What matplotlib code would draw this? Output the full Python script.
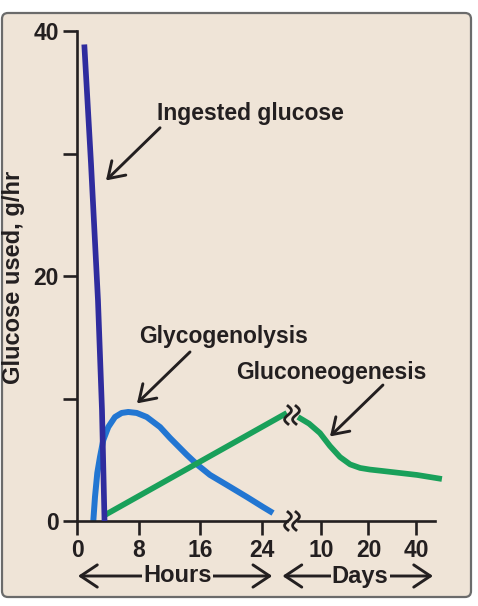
import numpy as np
import matplotlib
matplotlib.use("Agg")
import matplotlib.pyplot as plt
from matplotlib.patches import FancyBboxPatch
from matplotlib.lines import Line2D
from matplotlib.ticker import NullLocator, FixedLocator

# ---------------- data ----------------
ingested_hours = [0.95, 1.82, 2.73, 3.25, 3.58]
ingested_values = [38.9, 29.2, 18.0, 9.06, 0.0]

glyco_hours = [2.12, 2.34, 2.64, 2.99, 3.42, 4.07, 4.94, 5.81, 6.67, 7.77,
               9.07, 10.8, 12.1, 14.3, 15.7, 17.3, 19.5, 22.1, 24.2, 25.5]
glyco_values = [0.0, 1.96, 3.92, 5.22, 6.61, 7.67, 8.49, 8.82, 8.90, 8.82,
                8.49, 7.67, 6.78, 5.39, 4.57, 3.76, 2.94, 1.96, 1.14, 0.65]

gluco_hours = [3.64, 27.3]
gluco_hours_values = [0.49, 8.82]
gluco_days = [7.15, 8.4, 9.85, 11.4, 13.2, 15.3, 17.7, 20.4, 24.7, 40.6, 58.4]
gluco_days_values = [8.49, 7.95, 7.18, 6.12, 5.22, 4.62, 4.33, 4.2, 4.08, 3.76, 3.43]

hour_ticks = [0, 8, 16, 24]
day_ticks = [10, 20, 40]
y_major = [0, 20, 40]
y_minor = [10, 30]

# ---------------- style ----------------
BG = "#efe4d7"
TXT = "#231f20"
C_ING = "#2f2c9e"
C_GLY = "#2276d2"
C_GNG = "#19a05a"
FONT = ["Liberation Sans", "DejaVu Sans"]
plt.rcParams["font.family"] = FONT
plt.rcParams["font.weight"] = "bold"

W, H = 478, 606
fig = plt.figure(figsize=(W / 100, H / 100), dpi=100)
fig.patch.set_facecolor("white")

frame = FancyBboxPatch((0.02, 0.09), 4.69, 5.84,
                       boxstyle="round,pad=0,rounding_size=0.06",
                       transform=fig.dpi_scale_trans, facecolor=BG,
                       edgecolor="#6b6b6b", lw=1.6, zorder=0)
fig.add_artist(frame)

px_per_hour = 7.6875
ax1 = fig.add_axes([77 / W, 85 / H, 210 / W, 490 / H])
ax2 = fig.add_axes([298 / W, 85 / H, 137 / W, 490 / H])
for ax in (ax1, ax2):
    ax.patch.set_visible(False)
    ax.set_ylim(0, 40)
    for s in ("top", "right"):
        ax.spines[s].set_visible(False)
    ax.spines["bottom"].set_linewidth(1.9)
    ax.spines["left"].set_linewidth(1.9)
    ax.spines["bottom"].set_color(TXT)
    ax.spines["left"].set_color(TXT)

TICK_FS = 16.5
ax1.set_xlim(0, 210 / px_per_hour)
ax1.set_xticks(hour_ticks)
ax1.set_yticks(y_major)
ax1.yaxis.set_minor_locator(FixedLocator(y_minor))
ax1.tick_params(axis="both", which="both", direction="out", length=10,
                width=1.9, color=TXT, labelsize=TICK_FS, labelcolor=TXT, pad=3)

ax2.set_xscale("log")
ax2.set_xlim(7.15, 52.8)
ax2.xaxis.set_major_locator(FixedLocator(day_ticks))
ax2.set_xticklabels([str(d) for d in day_ticks])
ax2.xaxis.set_minor_locator(NullLocator())
ax2.spines["left"].set_visible(False)
ax2.set_yticks([])
ax2.tick_params(axis="x", direction="out", length=10, width=1.9, color=TXT,
                labelsize=TICK_FS, labelcolor=TXT, pad=3)

# ---------------- curves ----------------
LW = 4.1
ax1.plot(gluco_hours, gluco_hours_values, color=C_GNG, lw=LW,
         solid_capstyle="butt", clip_on=False, zorder=3)
ax1.plot(glyco_hours, glyco_values, color=C_GLY, lw=LW + 0.2,
         solid_capstyle="butt", solid_joinstyle="round", clip_on=False, zorder=2)
ax1.plot(ingested_hours, ingested_values, color=C_ING, lw=LW,
         solid_capstyle="butt", solid_joinstyle="round", clip_on=False, zorder=4)
ax2.plot(gluco_days, gluco_days_values, color=C_GNG, lw=LW,
         solid_capstyle="butt", solid_joinstyle="round", clip_on=False, zorder=3)

# ---------------- annotations ----------------
LBL_FS = 16.5
arrow = dict(arrowstyle="->,head_length=0.55,head_width=0.36", lw=2.1,
             color=TXT, shrinkA=0, shrinkB=0, mutation_scale=20)
ax1.annotate("", xy=(3.77, 27.8), xytext=(10.8, 32.1), arrowprops=arrow)
ax1.text(22.5, 33.3, "Ingested glucose", ha="center", va="center",
         fontsize=LBL_FS, color=TXT)
ax1.annotate("", xy=(7.8, 9.6), xytext=(14.7, 13.8), arrowprops=arrow)
ax1.text(19.1, 15.1, "Glycogenolysis", ha="center", va="center",
         fontsize=LBL_FS, color=TXT)
ax2.annotate("", xy=(11.4, 6.9), xytext=(24.7, 11.1), arrowprops=arrow)
ax2.text(11.6, 12.15, "Gluconeogenesis", ha="center", va="center",
         fontsize=LBL_FS, color=TXT)

# Hours / Days double arrows under the axis
darrow = dict(arrowstyle="<->,head_length=0.6,head_width=0.4", lw=2.1,
              color=TXT, shrinkA=0, shrinkB=0, mutation_scale=20)
ytr = (521 - 576) / 490
ax1.annotate("", xy=(0.13, ytr), xytext=(25.4, ytr),
             xycoords=("data", "axes fraction"),
             textcoords=("data", "axes fraction"), arrowprops=darrow,
             annotation_clip=False)
ax1.text(13.1, ytr, "Hours", transform=ax1.get_xaxis_transform(),
         ha="center", va="center", fontsize=17, color=TXT,
         bbox=dict(facecolor=BG, edgecolor="none", pad=0.8))
ax2.annotate("", xy=(5.7, ytr), xytext=(51.3, ytr),
             xycoords=("data", "axes fraction"),
             textcoords=("data", "axes fraction"), arrowprops=darrow,
             annotation_clip=False)
ax2.text(17.7, ytr, "Days", transform=ax2.get_xaxis_transform(),
         ha="center", va="center", fontsize=17, color=TXT,
         bbox=dict(facecolor=BG, edgecolor="none", pad=0.8))

fig.text(14 / W, (H - 277) / H, "Glucose used, g/hr", rotation=90,
         ha="center", va="center", fontsize=17, color=TXT)


# ---------------- axis break marks ----------------
def squiggle(cx, cy, h=18, amp=3.4):
    t = np.linspace(0, 1, 50)
    xs = (cx + amp * np.sin(2 * np.pi * t)) / 100
    ys = (H - (cy - h / 2 + h * t)) / 100
    fig.add_artist(Line2D(xs, ys, transform=fig.dpi_scale_trans,
                          color=TXT, lw=2.0, zorder=10))


for cy in (415, 521):
    squiggle(288.0, cy)
    squiggle(296.0, cy)

fig.savefig("out.png", dpi=100, facecolor="white")
